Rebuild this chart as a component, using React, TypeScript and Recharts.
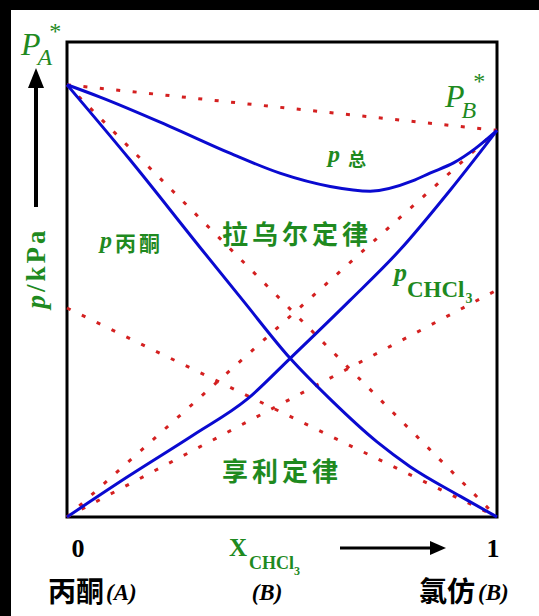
import React from "react";
import { LineChart, Line, XAxis, YAxis, ReferenceArea } from "recharts";

// Vapour pressure of the acetone (A) – chloroform (B) system, p in kPa vs mole fraction of CHCl3

// Total pressure curve
const xTotal = [0, 0.077, 0.24, 0.379, 0.495, 0.612, 0.705, 0.805, 0.844, 0.9, 0.95, 1];
const pTotal = [45.5, 44.2, 41.1, 38.3, 36.2, 34.8, 34.3, 35.4, 36.2, 37.3, 38.8, 40.7];

// Partial pressure of acetone
const xAcetone = [0, 0.1465, 0.309, 0.409, 0.519, 0.612, 0.721, 0.798, 0.914, 1];
const pAcetone = [45.5, 37.6, 28.4, 22.8, 16.7, 12.4, 7.9, 5.3, 2.2, 0];

// Partial pressure of chloroform
const xChloroform = [0, 0.14, 0.293, 0.419, 0.519, 0.658, 0.774, 0.891, 1];
const pChloroform = [0, 4.2, 8.6, 12.4, 16.7, 22.8, 28.1, 34.4, 40.7];

// Pure-component vapour pressures and Henry constants
const pStarA = 45.5;
const pStarB = 40.7;
const henryA = 22.0;
const henryB = 23.9;

// Ideal (Raoult) and Henry straight lines: [x, p] endpoints
const raoultTotal = [[0, pStarA], [1, pStarB]];
const raoultA = [[0, pStarA], [1, 0]];
const raoultB = [[0, 0], [1, pStarB]];
const henryLineA = [[0, henryA], [1, 0]];
const henryLineB = [[0, 0], [1, henryB]];

const xTickLabels = ["0", "1"];

const toRows = (xs: number[], ps: number[]) => xs.map((x, i) => ({ x, p: ps[i] }));
const pairRows = (pts: number[][]) => pts.map(([x, p]) => ({ x, p }));

const BLUE = "#0a0ad0";
const RED = "#d42020";
const GREEN = "#1f8a1f";
const SERIF = '"Liberation Serif", "DejaVu Serif", serif';
const CJK = '"Noto Sans CJK SC", sans-serif';

const W = 539;
const H = 616;
const M = { top: 42, right: 42, bottom: 99, left: 67 };

export default function App() {
  const dotted = {
    stroke: RED,
    strokeWidth: 3,
    strokeDasharray: "4 12.5",
    dot: false,
    isAnimationActive: false,
    type: "linear" as const,
  };
  const solid = {
    stroke: BLUE,
    strokeWidth: 3,
    dot: false,
    isAnimationActive: false,
    type: "monotone" as const,
  };
  return (
    <div style={{ position: "absolute", left: 0, top: 0, width: W, height: H, background: "#fff", overflow: "hidden" }}>
      <div style={{ position: "absolute", left: 0, top: 0, width: W, height: 10, background: "#000" }} />
      <div style={{ position: "absolute", left: 0, top: 0, width: 11, height: H, background: "#000" }} />
      <div style={{ position: "absolute", left: 0, top: 0 }}>
        <LineChart width={W} height={H} margin={M}>
          <XAxis type="number" dataKey="x" domain={[0, 1]} hide />
          <YAxis type="number" dataKey="p" domain={[0, 50]} hide />
          <Line data={pairRows(raoultTotal)} dataKey="p" {...dotted} />
          <Line data={pairRows(raoultA)} dataKey="p" {...dotted} />
          <Line data={pairRows(raoultB)} dataKey="p" {...dotted} />
          <Line data={pairRows(henryLineA)} dataKey="p" {...dotted} />
          <Line data={pairRows(henryLineB)} dataKey="p" {...dotted} />
          <Line data={toRows(xTotal, pTotal)} dataKey="p" {...solid} />
          <Line data={toRows(xAcetone, pAcetone)} dataKey="p" {...solid} />
          <Line data={toRows(xChloroform, pChloroform)} dataKey="p" {...solid} />
          <ReferenceArea x1={0} x2={1} y1={0} y2={50} fill="none" stroke="#000" strokeWidth={3} ifOverflow="visible" />
        </LineChart>
      </div>
      <svg width={W} height={H} style={{ position: "absolute", left: 0, top: 0, pointerEvents: "none" }}>
        {/* P_A* */}
        <text x={21} y={55} fontFamily={SERIF} fontStyle="italic" fontSize={32} fill={GREEN}>
          P
          <tspan dx={-3} dy={10} fontSize={24}>A</tspan>
          <tspan dx={-3} dy={-26} fontStyle="normal" fontSize={24}>*</tspan>
        </text>
        {/* P_B* */}
        <text x={445} y={107} fontFamily={SERIF} fontStyle="italic" fontSize={32} fill={GREEN}>
          P
          <tspan dx={-3} dy={11} fontSize={24}>B</tspan>
          <tspan dx={-3} dy={-29} fontStyle="normal" fontSize={24}>*</tspan>
        </text>

        {/* y axis arrow and label */}
        <line x1={36} y1={207} x2={36} y2={84} stroke="#000" strokeWidth={4} />
        <polygon points="36,68 28,88 44,88" fill="#000" />
        <text transform="translate(45,268) rotate(-90)" textAnchor="middle" fontFamily={SERIF} fontWeight="bold" fontSize={27} letterSpacing={3} fill={GREEN}>
          <tspan fontStyle="italic">p</tspan>/kPa
        </text>

        {/* curve labels */}
        <text x={328} y={162} fontFamily={SERIF} fontStyle="italic" fontWeight="bold" fontSize={24} fill={GREEN}>
          p
          <tspan dx={8} dy={4} fontFamily={CJK} fontStyle="normal" fontSize={18}>总</tspan>
        </text>

        <text x={100} y={248} fontFamily={SERIF} fontStyle="italic" fontWeight="bold" fontSize={24} fill={GREEN}>
          p
          <tspan dx={3} dy={3} fontFamily={CJK} fontStyle="normal" fontSize={21} letterSpacing={3}>丙酮</tspan>
        </text>

        <text x={394} y={281} fontFamily={SERIF} fontStyle="italic" fontWeight="bold" fontSize={26} fill={GREEN}>
          p
          <tspan dx={0} dy={16} fontStyle="normal" fontSize={23}>CHCl</tspan>
          <tspan dx={1} dy={6} fontStyle="normal" fontSize={14}>3</tspan>
        </text>

        <text x={222} y={244} fontFamily={CJK} fontWeight="bold" fontSize={26} letterSpacing={4} fill={GREEN}>拉乌尔定律</text>
        <text x={222} y={481} fontFamily={CJK} fontWeight="bold" fontSize={26} letterSpacing={4} fill={GREEN}>享利定律</text>

        {/* x axis ends and label */}
        <text x={78} y={557} textAnchor="middle" fontFamily={SERIF} fontWeight="bold" fontSize={26} fill="#000">{xTickLabels[0]}</text>
        <text x={493} y={557} textAnchor="middle" fontFamily={SERIF} fontWeight="bold" fontSize={26} fill="#000">{xTickLabels[1]}</text>
        <text x={229} y={556} fontFamily={SERIF} fontWeight="bold" fontSize={25} fill={GREEN}>
          X
          <tspan dx={2} dy={13} fontSize={18}>CHCl</tspan>
          <tspan dx={0} dy={6} fontSize={12}>3</tspan>
        </text>
        <line x1={340} y1={548} x2={432} y2={548} stroke="#000" strokeWidth={3} />
        <polygon points="430,541 446,548 430,555" fill="#000" />

        <text x={48} y={602} fontFamily={CJK} fontWeight="bold" fontSize={28} fill="#000">
          丙酮
          <tspan dx={2} dy={-2} fontFamily={SERIF} fontStyle="italic" fontSize={23}>(A)</tspan>
        </text>
        <text x={267} y={600} textAnchor="middle" fontFamily={SERIF} fontStyle="italic" fontWeight="bold" fontSize={23} fill="#000">(B)</text>
        <text x={419} y={602} fontFamily={CJK} fontWeight="bold" fontSize={28} fill="#000">
          氯仿
          <tspan dx={3} dy={-2} fontFamily={SERIF} fontStyle="italic" fontSize={23}>(B)</tspan>
        </text>
      </svg>
    </div>
  );
}
